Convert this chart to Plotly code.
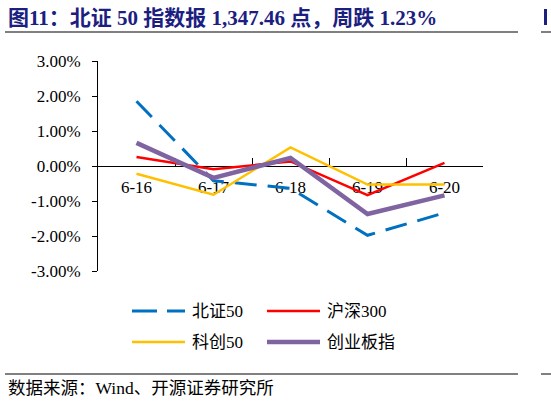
import plotly.graph_objects as go

# 日期
dates = ["6-16", "6-17", "6-18", "6-19", "6-20"]

# 各指数日涨跌幅 (%)
bz50 = [1.85, -0.42, -0.64, -1.98, -1.34]
hs300 = [0.26, -0.09, 0.13, -0.83, 0.09]
kc50 = [-0.22, -0.82, 0.53, -0.53, -0.53]
cybz = [0.66, -0.34, 0.23, -1.37, -0.84]

names = ["北证50", "沪深300", "科创50", "创业板指"]
colors = ["#0070C0", "#FF0000", "#FFC000", "#8064A2"]
widths = [3, 2.5, 2.5, 4.5]
dashes = ["22px,11px", "solid", "solid", "solid"]

ytick_vals = [3, 2, 1, 0, -1, -2, -3]
ytick_text = ["3.00%", "2.00%", "1.00%", "0.00%", "-1.00%", "-2.00%", "-3.00%"]

W, H = 551, 405
L, R, T, B = 98, 68, 61, 134
pw, ph = W - L - R, H - T - B


def px_x(p):
    return (p - L) / pw


def px_y(p):
    return (H - B - p) / ph


fig = go.Figure()
for name, vals, c, w, d in zip(names, [bz50, hs300, kc50, cybz], colors, widths, dashes):
    fig.add_trace(go.Scatter(x=dates, y=vals, name=name, mode="lines",
                             line=dict(color=c, width=w, dash=d)))

serif = "Liberation Serif, Noto Sans CJK SC"

fig.update_layout(
    width=W, height=H,
    margin=dict(l=L, r=R, t=T, b=B),
    paper_bgcolor="white", plot_bgcolor="white",
    showlegend=False,
    xaxis=dict(type="category", range=[-0.5, 4.5], anchor="free", position=0.5,
               showline=True, linecolor="black", linewidth=1,
               ticks="inside", ticklen=8, tickcolor="black", tickson="boundaries",
               showgrid=False, zeroline=False, layer="below traces",
               tickfont=dict(family="Liberation Serif", size=17, color="black"),
               ticklabelstandoff=6),
    yaxis=dict(range=[-3, 3], tickvals=ytick_vals, ticktext=ytick_text,
               showline=True, linecolor="black", linewidth=1,
               ticks="outside", ticklen=5, tickcolor="black",
               showgrid=False, zeroline=False,
               tickfont=dict(family="Liberation Serif", size=17, color="black"),
               ticklabelstandoff=8),
)

# 图例（两列两行）
legend_pos = [(132, 311), (267, 311), (132, 342), (267, 342)]
for (lx, ly), name, c, w, d in zip(legend_pos, names, colors, widths, dashes):
    fig.add_shape(type="line", xref="paper", yref="paper",
                  x0=px_x(lx), x1=px_x(lx + 53), y0=px_y(ly), y1=px_y(ly),
                  line=dict(color=c, width=w, dash="25px,10px" if d != "solid" else "solid"))
    fig.add_annotation(text=name, xref="paper", yref="paper", x=px_x(lx + 58), y=px_y(ly),
                       xanchor="left", yanchor="middle", showarrow=False,
                       font=dict(family=serif, size=17, color="black"))

navy = "#1B2080"
fig.add_annotation(text="<b>图11：北证 50 指数报 1,347.46 点，周跌 1.23%</b>",
                   xref="paper", yref="paper", x=px_x(6), y=px_y(18),
                   xanchor="left", yanchor="middle", showarrow=False,
                   font=dict(family=serif, size=21, color=navy))
fig.add_annotation(text="数据来源：Wind、开源证券研究所",
                   xref="paper", yref="paper", x=px_x(6), y=px_y(388),
                   xanchor="left", yanchor="middle", showarrow=False,
                   font=dict(family=serif, size=17.5, color="black"))

# 右侧相邻图表的残边
fig.add_shape(type="rect", xref="paper", yref="paper",
              x0=px_x(544), x1=px_x(547), y0=px_y(25), y1=px_y(9),
              fillcolor=navy, line=dict(width=0))

for x0, x1 in [(5, 518), (541, 560)]:
    for yy in (32, 374):
        fig.add_shape(type="line", xref="paper", yref="paper",
                      x0=px_x(x0), x1=px_x(x1), y0=px_y(yy), y1=px_y(yy),
                      line=dict(color="#808080", width=2))

fig.write_html("out.html", config={"displayModeBar": False},
               post_script="document.body.style.margin='0';")
